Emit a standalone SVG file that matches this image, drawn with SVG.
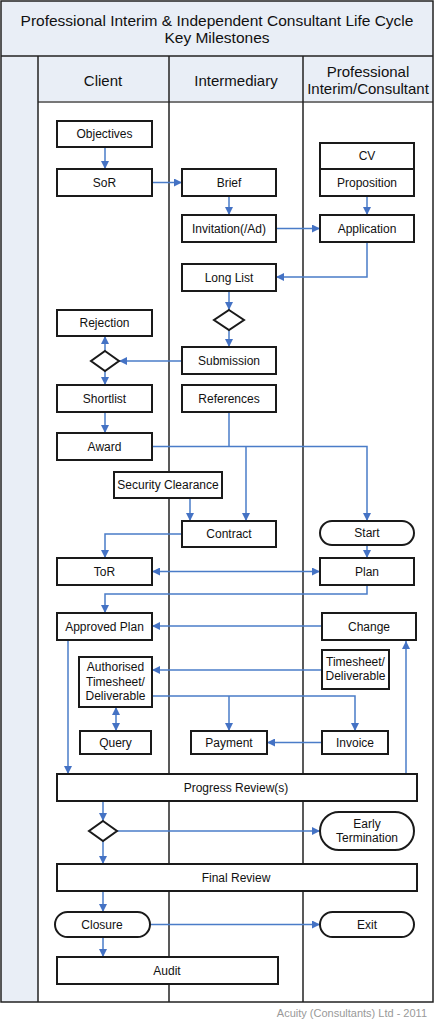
<svg xmlns="http://www.w3.org/2000/svg" width="437" height="1023" viewBox="0 0 437 1023">
<defs>
<marker id="ah" viewBox="0 0 10 10" refX="10" refY="5" markerWidth="8" markerHeight="8" markerUnits="userSpaceOnUse" orient="auto-start-reverse">
<path d="M0,0 L10,5 L0,10 z" fill="#4472c4"/>
</marker>
<style>
.frame{fill:none;stroke:#222;stroke-width:1.5}
.band{fill:#e9eef6}
.lane{stroke:#222;stroke-width:1.5;fill:none}
.box{fill:#fff;stroke:#1a1a1a;stroke-width:2}
.t{font-family:"Liberation Sans",Arial,sans-serif;font-size:12px;fill:#111;text-anchor:middle;dominant-baseline:central}
.h{font-family:"Liberation Sans",Arial,sans-serif;font-size:15px;fill:#111;text-anchor:middle;dominant-baseline:central}
.ti{font-family:"Liberation Sans",Arial,sans-serif;font-size:15.5px;fill:#111;text-anchor:middle;dominant-baseline:central}
.c{fill:none;stroke:#4a7cc8;stroke-width:1.5}
.a{marker-end:url(#ah)}
.d{marker-start:url(#ah);marker-end:url(#ah)}
</style>
</defs>
<rect width="437" height="1023" fill="#fff"/>
<g id="frame">
<rect class="band" x="1" y="1" width="432" height="55"/>
<rect class="band" x="1" y="56" width="37" height="946"/>
<rect class="band" x="38" y="56" width="395" height="46"/>
<line x1="38" y1="102" x2="433" y2="102" stroke="#777" stroke-width="2"/>
<rect class="frame" x="1" y="1" width="432" height="1001"/>
<line class="lane" x1="1" y1="56" x2="433" y2="56"/>
<line class="lane" x1="38" y1="56" x2="38" y2="1002"/>
<line class="lane" x1="169" y1="56" x2="169" y2="1002"/>
<line class="lane" x1="303" y1="56" x2="303" y2="1002"/>
<text class="ti" x="217" y="20">Professional Interim &amp; Independent Consultant Life Cycle</text>
<text class="ti" x="217" y="37">Key Milestones</text>
<text class="h" x="103" y="80">Client</text>
<text class="h" x="236" y="80">Intermediary</text>
<text class="h" x="368" y="71">Professional</text>
<text class="h" x="368" y="88">Interim/Consultant</text>
</g>
<g id="connectors">
<path class="c a" d="M105,147 V169"/>
<path class="c a" d="M152,182.5 H182"/>
<path class="c a" d="M229,196 V215"/>
<path class="c a" d="M367,196 V215"/>
<path class="c a" d="M276,228.5 H320"/>
<path class="c a" d="M367,242 V277 H276"/>
<path class="c a" d="M229,291 V310"/>
<path class="c a" d="M229,330 V347"/>
<path class="c a" d="M182,361 H119"/>
<path class="c a" d="M105,351 V336"/>
<path class="c a" d="M105,371 V385"/>
<path class="c a" d="M105,412 V433"/>
<path class="c a" d="M152,446.5 H367 V521"/>
<path class="c" d="M229,412 V446.5"/>
<path class="c a" d="M246,446.5 V521"/>
<path class="c a" d="M190,498 V521"/>
<path class="c a" d="M182,534 H105 V558"/>
<path class="c d" d="M152,571.5 H320"/>
<path class="c a" d="M367,545 V558"/>
<path class="c a" d="M367,585 V594 H105 V613"/>
<path class="c a" d="M322,626 H152"/>
<path class="c a" d="M68,640 V774"/>
<path class="c a" d="M406,774 V641"/>
<path class="c a" d="M322,670 H152"/>
<path class="c a" d="M152,696 H355 V731"/>
<path class="c a" d="M229,696 V731"/>
<path class="c d" d="M116,707 V731"/>
<path class="c a" d="M322,742.5 H267"/>
<path class="c a" d="M103,801 V821"/>
<path class="c a" d="M117,831 H320"/>
<path class="c a" d="M103,841 V864"/>
<path class="c a" d="M103,891 V912"/>
<path class="c a" d="M150,924.5 H320"/>
<path class="c a" d="M103,937 V957"/>
</g>
<g id="objectives"><rect class="box" x="57" y="121" width="95" height="26"/><text class="t" x="104.5" y="134">Objectives</text></g>
<g id="sor"><rect class="box" x="57" y="169" width="95" height="27"/><text class="t" x="104.5" y="182.5">SoR</text></g>
<g id="brief"><rect class="box" x="182" y="169" width="94" height="27"/><text class="t" x="229" y="182.5">Brief</text></g>
<g id="cv"><rect class="box" x="320" y="143" width="94" height="26"/><text class="t" x="367" y="156">CV</text></g>
<g id="proposition"><rect class="box" x="320" y="169" width="94" height="27"/><text class="t" x="367" y="182.5">Proposition</text></g>
<g id="invitation"><rect class="box" x="182" y="215" width="94" height="27"/><text class="t" x="229" y="228.5">Invitation(/Ad)</text></g>
<g id="application"><rect class="box" x="320" y="215" width="94" height="27"/><text class="t" x="367" y="228.5">Application</text></g>
<g id="longlist"><rect class="box" x="182" y="264" width="94" height="27"/><text class="t" x="229" y="277.5">Long List</text></g>
<g id="decision1"><path class="box" d="M229,310 L244,320 L229,330 L214,320 z"/></g>
<g id="rejection"><rect class="box" x="57" y="310" width="95" height="26"/><text class="t" x="104.5" y="323">Rejection</text></g>
<g id="submission"><rect class="box" x="182" y="347" width="94" height="27"/><text class="t" x="229" y="360.5">Submission</text></g>
<g id="decision2"><path class="box" d="M105,351 L119,361 L105,371 L91,361 z"/></g>
<g id="shortlist"><rect class="box" x="57" y="385" width="95" height="27"/><text class="t" x="104.5" y="398.5">Shortlist</text></g>
<g id="references"><rect class="box" x="182" y="385" width="94" height="27"/><text class="t" x="229" y="398.5">References</text></g>
<g id="award"><rect class="box" x="57" y="433" width="95" height="27"/><text class="t" x="104.5" y="446.5">Award</text></g>
<g id="security"><rect class="box" x="114" y="472" width="108" height="26"/><text class="t" x="168" y="485">Security Clearance</text></g>
<g id="contract"><rect class="box" x="182" y="521" width="94" height="26"/><text class="t" x="229" y="534">Contract</text></g>
<g id="start"><rect class="box" x="320" y="521" width="94" height="24" rx="12"/><text class="t" x="367" y="533">Start</text></g>
<g id="tor"><rect class="box" x="57" y="558" width="95" height="27"/><text class="t" x="104.5" y="571.5">ToR</text></g>
<g id="plan"><rect class="box" x="320" y="558" width="94" height="27"/><text class="t" x="367" y="571.5">Plan</text></g>
<g id="approvedplan"><rect class="box" x="57" y="613" width="95" height="27"/><text class="t" x="104.5" y="626.5">Approved Plan</text></g>
<g id="change"><rect class="box" x="322" y="613" width="94" height="27"/><text class="t" x="369" y="626.5">Change</text></g>
<g id="authorised"><rect class="box" x="79" y="657" width="73" height="50"/><text class="t" x="115.5" y="667">Authorised</text><text class="t" x="115.5" y="682">Timesheet/</text><text class="t" x="115.5" y="696">Deliverable</text></g>
<g id="timesheet"><rect class="box" x="322" y="650" width="67" height="39"/><text class="t" x="355.5" y="662">Timesheet/</text><text class="t" x="355.5" y="676">Deliverable</text></g>
<g id="query"><rect class="box" x="80" y="731" width="71" height="23"/><text class="t" x="115.5" y="742.5">Query</text></g>
<g id="payment"><rect class="box" x="191" y="731" width="76" height="23"/><text class="t" x="229" y="742.5">Payment</text></g>
<g id="invoice"><rect class="box" x="322" y="731" width="66" height="23"/><text class="t" x="355" y="742.5">Invoice</text></g>
<g id="progress"><rect class="box" x="57" y="774" width="360" height="27"/><text class="t" x="236" y="787.5">Progress Review(s)</text></g>
<g id="decision3"><path class="box" d="M103,821 L117,831 L103,841 L89,831 z"/></g>
<g id="early"><rect class="box" x="320" y="812" width="94" height="38" rx="19"/><text class="t" x="367" y="824">Early</text><text class="t" x="367" y="838">Termination</text></g>
<g id="final"><rect class="box" x="57" y="864" width="360" height="27"/><text class="t" x="236" y="877.5">Final Review</text></g>
<g id="closure"><rect class="box" x="55" y="912" width="95" height="25" rx="12.5"/><text class="t" x="102" y="924.5">Closure</text></g>
<g id="exit"><rect class="box" x="320" y="912" width="94" height="25" rx="12.5"/><text class="t" x="367" y="924.5">Exit</text></g>
<g id="audit"><rect class="box" x="57" y="957" width="221" height="27"/><text class="t" x="167" y="970.5">Audit</text></g>
<text x="427" y="1017" font-family="'Liberation Sans',Arial,sans-serif" font-size="11" fill="#999" text-anchor="end">Acuity (Consultants) Ltd - 2011</text>
</svg>
